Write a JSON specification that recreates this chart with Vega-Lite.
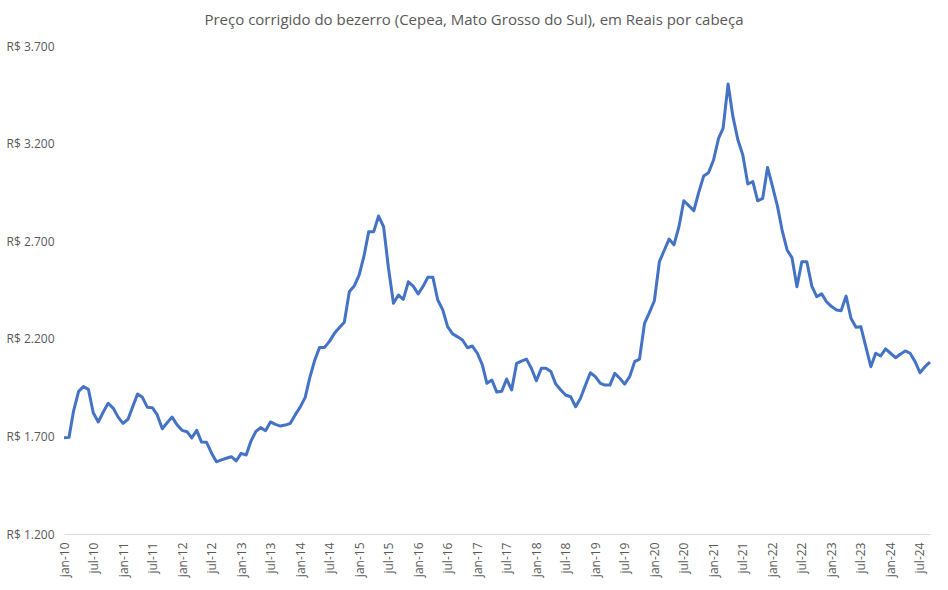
{
  "$schema": "https://vega.github.io/schema/vega-lite/v6.json",
  "width": 866,
  "height": 488,
  "autosize": {"type": "none"},
  "padding": {"left": 64, "top": 46, "right": 18, "bottom": 56},
  "background": "white",
  "title": {
    "text": "Preço corrigido do bezerro (Cepea, Mato Grosso do Sul), em Reais por cabeça",
    "font": "Open Sans",
    "fontSize": 15,
    "fontWeight": "normal",
    "color": "#595959",
    "anchor": "middle",
    "dx": -23,
    "offset": 12
  },
  "config": {"view": {"stroke": null}},
  "data": {
    "format": {"parse": {"mes": "date:'%Y-%m'"}},
    "values": [
      {"mes": "2010-01", "preco": 1693}, {"mes": "2010-02", "preco": 1695}, {"mes": "2010-03", "preco": 1830}, {"mes": "2010-04", "preco": 1930},
      {"mes": "2010-05", "preco": 1955}, {"mes": "2010-06", "preco": 1941}, {"mes": "2010-07", "preco": 1821}, {"mes": "2010-08", "preco": 1774},
      {"mes": "2010-09", "preco": 1825}, {"mes": "2010-10", "preco": 1870}, {"mes": "2010-11", "preco": 1845}, {"mes": "2010-12", "preco": 1800},
      {"mes": "2011-01", "preco": 1767}, {"mes": "2011-02", "preco": 1788}, {"mes": "2011-03", "preco": 1850}, {"mes": "2011-04", "preco": 1917},
      {"mes": "2011-05", "preco": 1900}, {"mes": "2011-06", "preco": 1849}, {"mes": "2011-07", "preco": 1847}, {"mes": "2011-08", "preco": 1810},
      {"mes": "2011-09", "preco": 1739}, {"mes": "2011-10", "preco": 1770}, {"mes": "2011-11", "preco": 1799}, {"mes": "2011-12", "preco": 1760},
      {"mes": "2012-01", "preco": 1731}, {"mes": "2012-02", "preco": 1724}, {"mes": "2012-03", "preco": 1692}, {"mes": "2012-04", "preco": 1731},
      {"mes": "2012-05", "preco": 1671}, {"mes": "2012-06", "preco": 1670}, {"mes": "2012-07", "preco": 1615}, {"mes": "2012-08", "preco": 1570},
      {"mes": "2012-09", "preco": 1580}, {"mes": "2012-10", "preco": 1588}, {"mes": "2012-11", "preco": 1596}, {"mes": "2012-12", "preco": 1574},
      {"mes": "2013-01", "preco": 1613}, {"mes": "2013-02", "preco": 1605}, {"mes": "2013-03", "preco": 1673}, {"mes": "2013-04", "preco": 1724},
      {"mes": "2013-05", "preco": 1745}, {"mes": "2013-06", "preco": 1729}, {"mes": "2013-07", "preco": 1774}, {"mes": "2013-08", "preco": 1762},
      {"mes": "2013-09", "preco": 1753}, {"mes": "2013-10", "preco": 1758}, {"mes": "2013-11", "preco": 1767}, {"mes": "2013-12", "preco": 1810},
      {"mes": "2014-01", "preco": 1850}, {"mes": "2014-02", "preco": 1900}, {"mes": "2014-03", "preco": 2000}, {"mes": "2014-04", "preco": 2090},
      {"mes": "2014-05", "preco": 2156}, {"mes": "2014-06", "preco": 2156}, {"mes": "2014-07", "preco": 2187}, {"mes": "2014-08", "preco": 2228},
      {"mes": "2014-09", "preco": 2258}, {"mes": "2014-10", "preco": 2285}, {"mes": "2014-11", "preco": 2441}, {"mes": "2014-12", "preco": 2470},
      {"mes": "2015-01", "preco": 2527}, {"mes": "2015-02", "preco": 2629}, {"mes": "2015-03", "preco": 2749}, {"mes": "2015-04", "preco": 2749},
      {"mes": "2015-05", "preco": 2829}, {"mes": "2015-06", "preco": 2774}, {"mes": "2015-07", "preco": 2564}, {"mes": "2015-08", "preco": 2382},
      {"mes": "2015-09", "preco": 2424}, {"mes": "2015-10", "preco": 2402}, {"mes": "2015-11", "preco": 2492}, {"mes": "2015-12", "preco": 2470},
      {"mes": "2016-01", "preco": 2430}, {"mes": "2016-02", "preco": 2470}, {"mes": "2016-03", "preco": 2515}, {"mes": "2016-04", "preco": 2515},
      {"mes": "2016-05", "preco": 2399}, {"mes": "2016-06", "preco": 2348}, {"mes": "2016-07", "preco": 2262}, {"mes": "2016-08", "preco": 2225},
      {"mes": "2016-09", "preco": 2210}, {"mes": "2016-10", "preco": 2194}, {"mes": "2016-11", "preco": 2154}, {"mes": "2016-12", "preco": 2163},
      {"mes": "2017-01", "preco": 2126}, {"mes": "2017-02", "preco": 2066}, {"mes": "2017-03", "preco": 1972}, {"mes": "2017-04", "preco": 1989},
      {"mes": "2017-05", "preco": 1927}, {"mes": "2017-06", "preco": 1931}, {"mes": "2017-07", "preco": 1994}, {"mes": "2017-08", "preco": 1938},
      {"mes": "2017-09", "preco": 2074}, {"mes": "2017-10", "preco": 2086}, {"mes": "2017-11", "preco": 2096}, {"mes": "2017-12", "preco": 2049},
      {"mes": "2018-01", "preco": 1985}, {"mes": "2018-02", "preco": 2049}, {"mes": "2018-03", "preco": 2049}, {"mes": "2018-04", "preco": 2032},
      {"mes": "2018-05", "preco": 1968}, {"mes": "2018-06", "preco": 1938}, {"mes": "2018-07", "preco": 1912}, {"mes": "2018-08", "preco": 1903},
      {"mes": "2018-09", "preco": 1852}, {"mes": "2018-10", "preco": 1895}, {"mes": "2018-11", "preco": 1963}, {"mes": "2018-12", "preco": 2026},
      {"mes": "2019-01", "preco": 2006}, {"mes": "2019-02", "preco": 1972}, {"mes": "2019-03", "preco": 1963}, {"mes": "2019-04", "preco": 1963},
      {"mes": "2019-05", "preco": 2023}, {"mes": "2019-06", "preco": 1998}, {"mes": "2019-07", "preco": 1968}, {"mes": "2019-08", "preco": 2006},
      {"mes": "2019-09", "preco": 2083}, {"mes": "2019-10", "preco": 2096}, {"mes": "2019-11", "preco": 2279}, {"mes": "2019-12", "preco": 2334},
      {"mes": "2020-01", "preco": 2395}, {"mes": "2020-02", "preco": 2595}, {"mes": "2020-03", "preco": 2651}, {"mes": "2020-04", "preco": 2711},
      {"mes": "2020-05", "preco": 2681}, {"mes": "2020-06", "preco": 2774}, {"mes": "2020-07", "preco": 2907}, {"mes": "2020-08", "preco": 2882},
      {"mes": "2020-09", "preco": 2856}, {"mes": "2020-10", "preco": 2949}, {"mes": "2020-11", "preco": 3034}, {"mes": "2020-12", "preco": 3051},
      {"mes": "2021-01", "preco": 3116}, {"mes": "2021-02", "preco": 3227}, {"mes": "2021-03", "preco": 3278}, {"mes": "2021-04", "preco": 3505},
      {"mes": "2021-05", "preco": 3338}, {"mes": "2021-06", "preco": 3218}, {"mes": "2021-07", "preco": 3142}, {"mes": "2021-08", "preco": 2993},
      {"mes": "2021-09", "preco": 3005}, {"mes": "2021-10", "preco": 2907}, {"mes": "2021-11", "preco": 2919}, {"mes": "2021-12", "preco": 3078},
      {"mes": "2022-01", "preco": 2979}, {"mes": "2022-02", "preco": 2877}, {"mes": "2022-03", "preco": 2757}, {"mes": "2022-04", "preco": 2655},
      {"mes": "2022-05", "preco": 2616}, {"mes": "2022-06", "preco": 2467}, {"mes": "2022-07", "preco": 2595}, {"mes": "2022-08", "preco": 2595},
      {"mes": "2022-09", "preco": 2470}, {"mes": "2022-10", "preco": 2416}, {"mes": "2022-11", "preco": 2430}, {"mes": "2022-12", "preco": 2390},
      {"mes": "2023-01", "preco": 2365}, {"mes": "2023-02", "preco": 2348}, {"mes": "2023-03", "preco": 2344}, {"mes": "2023-04", "preco": 2419},
      {"mes": "2023-05", "preco": 2305}, {"mes": "2023-06", "preco": 2259}, {"mes": "2023-07", "preco": 2262}, {"mes": "2023-08", "preco": 2160},
      {"mes": "2023-09", "preco": 2057}, {"mes": "2023-10", "preco": 2126}, {"mes": "2023-11", "preco": 2112}, {"mes": "2023-12", "preco": 2148},
      {"mes": "2024-01", "preco": 2126}, {"mes": "2024-02", "preco": 2103}, {"mes": "2024-03", "preco": 2121}, {"mes": "2024-04", "preco": 2138},
      {"mes": "2024-05", "preco": 2126}, {"mes": "2024-06", "preco": 2083}, {"mes": "2024-07", "preco": 2026}, {"mes": "2024-08", "preco": 2057},
      {"mes": "2024-09", "preco": 2080}
    ]
  },
  "mark": {"type": "line", "color": "#4472C4", "strokeWidth": 3, "strokeJoin": "round"},
  "encoding": {
    "x": {
      "field": "mes",
      "type": "temporal",
      "scale": {"domain": [{"year": 2010, "month": 1, "date": 1}, {"year": 2024, "month": 9, "date": 1}], "nice": false},
      "axis": {
        "title": null,
        "tickCount": {"interval": "month", "step": 6},
        "labelExpr": "lower(timeFormat(datum.value, '%b-%y'))",
        "labelAngle": -90,
        "labelFont": "Open Sans",
        "labelFontSize": 12,
        "labelColor": "#595959",
        "labelPadding": 8,
        "labelOverlap": false,
        "labelFlush": false,
        "ticks": false,
        "grid": false,
        "domainColor": "#D9D9D9",
        "domainWidth": 1
      }
    },
    "y": {
      "field": "preco",
      "type": "quantitative",
      "scale": {"domain": [1200, 3700], "nice": false, "zero": false},
      "axis": {
        "title": null,
        "values": [1200, 1700, 2200, 2700, 3200, 3700],
        "labelExpr": "'R$ ' + replace(format(datum.value, ','), ',', '.')",
        "labelFont": "Open Sans",
        "labelFontSize": 12,
        "labelColor": "#595959",
        "labelPadding": 10,
        "ticks": false,
        "domain": false,
        "grid": false
      }
    }
  }
}
